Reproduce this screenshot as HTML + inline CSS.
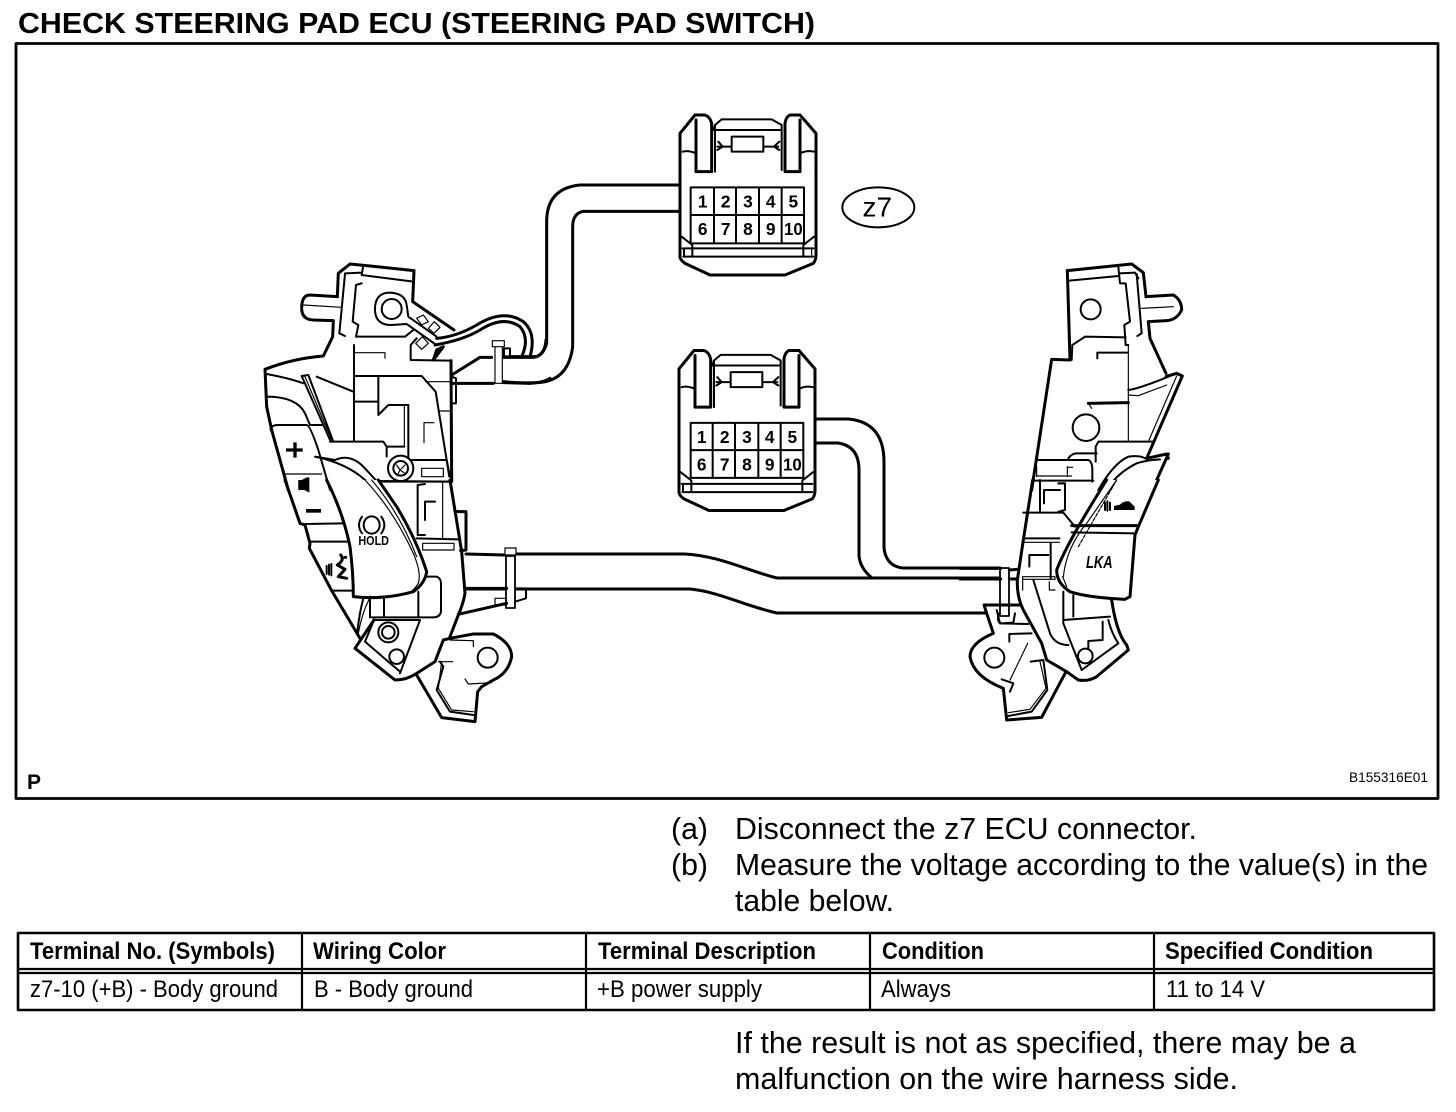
<!DOCTYPE html>
<html><head><meta charset="utf-8"><style>
html,body{margin:0;padding:0;background:#fff}
svg{display:block}
text{font-family:"Liberation Sans",Arial,sans-serif;fill:#000}
.b{font-weight:bold}
path,rect,circle,ellipse,line{fill:none;stroke:#000;stroke-linejoin:round;stroke-linecap:round}
.t{stroke-width:9}.m{stroke-width:6}.f{stroke-width:3.500}
.w{fill:#fff}
.k{fill:#000;stroke:none}
.d{font-weight:bold;font-size:52px;text-anchor:middle}
</style></head><body>
<svg width="1456" height="1112" viewBox="0 0 1456 1112" xmlns="http://www.w3.org/2000/svg">
<rect width="1456" height="1112" style="fill:#fff;stroke:none"/>
<text class="b" x="18" y="33" font-size="29" textLength="797" lengthAdjust="spacingAndGlyphs">CHECK STEERING PAD ECU (STEERING PAD SWITCH)</text>
<rect x="16" y="43.500" width="1422" height="755" style="stroke-width:2.800"/>
<text class="b" x="27" y="789" font-size="21">P</text>
<text x="1349" y="782" font-size="13.500" textLength="79" lengthAdjust="spacingAndGlyphs">B155316E01</text>

<!-- harness (real coordinates) -->
<g style="stroke-width:3">
<path d="M466,554 L505,555 M515,554 L685,554 C720,556 745,570 777,578 L1000,578"/>
<path d="M466,589 L505,589 M515,589 L690,589 C720,592 745,606 777,613 L985,613"/>
<path d="M859,530 L859,556 Q860,568 872,578"/>
<path d="M884,530 L884,548 Q886,566 903,568 L1000,568"/>
<path d="M816,419 L848,419 Q884,422 884,462 L884,530"/>
<path d="M816,443 L838,443 Q859,446 859,470 L859,530"/>
</g>
<rect class="w" x="506" y="556" width="9" height="52" style="stroke-width:1.800"/>
<rect class="w" x="505" y="548" width="11" height="7" style="stroke-width:1.200"/>
<rect class="w" x="1000" y="568" width="9" height="48" style="stroke-width:1.800"/>

<!-- upper wires -->
<g transform="translate(500,170) scale(.33333)">
<path class="t" d="M540,45 L240,45 Q140,55 140,155 L140,520 Q130,558 100,562 L10,562"/>
<path class="t" d="M540,124 L250,124 Q218,130 218,170 L218,530 Q205,635 110,638 Q50,640 10,635"/>
</g>

<!-- left top -->
<g transform="translate(250,250) scale(.33333)">
<path class="t" d="M262,140 L180,135 Q155,135 155,175 Q155,208 190,210 L250,212 L248,260 L220,318 Q130,325 45,358 L50,470 L65,540 L115,720"/>
<path class="t" d="M262,140 L265,70 L300,42 L342,46 L492,62 L488,155 L612,240"/>
<path class="f" d="M160,165 L275,172"/>
<path class="m" d="M285,72 L268,250 L285,258 M285,70 L335,68 M340,46 L335,75 L490,95"/>
<path class="m" d="M335,100 L318,105 L308,215 L325,225 L318,260 L465,260 L490,240"/>
<path class="m" d="M312,285 L312,575"/>
<circle class="m" cx="425" cy="177" r="30"/>
<path class="m" d="M425,225 Q375,225 375,178 Q375,128 420,128 Q465,130 470,165 L475,200 L560,260"/>
<path class="m" d="M425,225 L470,222 L555,282"/>
<path class="f" d="M500,205 L520,195 L535,215 L515,225 Z M535,235 L553,215 L570,232 L552,250 Z M497,280 L517,260 L535,280 L515,298 Z"/>
<path class="t" d="M560,265 Q620,260 680,225 Q760,175 820,215 Q860,250 840,320"/>
<path class="t" d="M555,285 Q640,270 690,240 Q760,195 810,230 Q840,265 815,320"/>
<path class="m" d="M500,265 L482,285 L482,330 L600,332"/>
<path class="t" d="M550,330 L580,290 L560,300 Z"/>
<path class="t" d="M603,332 L605,695"/>
<path class="t" d="M605,375 L690,322 L725,322 M780,320 L860,320 Q885,310 888,270"/>
<path class="t" d="M610,400 L730,400 M760,398 L840,400 Q880,398 900,385"/>
<path class="m" d="M605,380 L618,385 L618,460 L605,460"/>
<rect class="w f" x="735" y="288" width="22" height="112"/>
<rect class="w f" x="727" y="272" width="36" height="18"/>
<rect class="m" x="762" y="295" width="18" height="24"/>
<path class="m" d="M312,378 L515,378 L557,425 L598,680"/>
<path class="m" d="M312,455 L385,455 M385,378 L385,495 L415,465 L475,465 M475,465 L475,630"/>
<path class="f" d="M463,465 L463,590 M315,308 L405,308 L405,325 M565,483 L600,483 M527,395 L605,395 M522,518 L552,518 M522,518 L522,578"/>
<path class="m" d="M155,378 L175,375 L250,575 M155,378 L240,570"/>
<path class="f" d="M165,380 L245,570"/>
<path class="m" d="M200,380 L310,425 M240,575 L400,575 L410,590 L463,590 M410,590 L410,620 M475,630 L590,630 L600,680 M390,695 L600,695"/>
<circle class="w m" cx="452" cy="655" r="38"/><circle class="m" cx="452" cy="655" r="22"/>
<path class="f" d="M440,645 L450,660 L465,645 M445,670 L450,660 L462,668"/>
<rect class="f" x="515" y="655" width="65" height="25"/>
<path class="m" d="M50,440 Q140,440 165,490 L180,525 M50,372 Q120,385 160,400 M185,525 L215,525"/>
<path class="m" d="M62,540 Q62,525 85,525 L170,525 Q180,525 205,600 L240,720"/>
<path class="f" d="M105,672 L215,672"/>
<path class="m" d="M195,620 L255,630 Q300,610 340,650 L405,720 M195,620 Q290,640 345,690 L380,720"/>
<path class="k" d="M130,577 h10 v18 h18 v10 h-18 v18 h-10 v-18 h-22 v-10 h22 z"/>
<path class="k" d="M145,695 h10 l15,-10 h6 v35 h-31 z"/>
</g>

<!-- left bottom -->
<g transform="translate(250,480) scale(.33333)">
<path class="t" d="M105,0 L150,130 L165,135 L180,190 L178,205 L245,332 L330,475"/>
<path class="m" d="M165,132 L280,130 M180,185 L295,185 M245,332 L310,332"/>
<path class="w t" d="M230,0 Q280,100 300,200 Q310,280 310,350 Q400,360 490,335 Q525,310 530,275 Q500,180 440,80 L385,0"/>
<path class="f" d="M345,0 Q430,90 490,220 Q515,280 505,310 Q490,335 470,342"/>
<path class="f" d="M365,0 Q450,100 500,230"/>
<path class="m" d="M530,290 L560,290 Q573,295 573,310 L573,395 Q570,412 550,412 L365,412 M360,350 L360,412 M402,352 L402,412 M505,335 L505,412"/>
<path class="t" d="M600,0 L635,215 L645,340 Q640,370 625,405 L600,470"/>
<path class="t" d="M615,95 L648,95 L648,210 L632,212"/>
<path class="m" d="M525,12 L503,15 L503,165 L525,165 M500,175 L625,178 M388,3 L600,5"/>
<path class="f" d="M578,5 L578,175"/>
<path class="m" d="M555,65 L525,65 L525,120"/>
<rect class="f" x="518" y="190" width="94" height="20"/>
<path class="t" d="M372,420 L315,505 L435,600 Q470,600 500,580 L555,545 L580,480 L600,475 L670,462 L730,462 Q785,490 785,530 Q775,580 730,600 L695,620 L683,635 L675,725 L575,713 L500,585"/>
<path class="m" d="M372,420 L510,420 L450,580 M372,420 L345,485 L450,575"/>
<path class="f" d="M360,352 Q335,400 325,460"/>
<path class="m" d="M340,355 Q328,400 322,455"/>
<circle class="m" cx="440" cy="530" r="22"/>
<circle class="w m" cx="415" cy="457" r="30"/><circle class="m" cx="415" cy="457" r="19"/>
<circle class="m" cx="713" cy="533" r="30"/>
<path class="f" d="M600,480 L670,482 L670,500 M565,545 L608,545 M575,545 L565,625 L605,690 L670,695 M645,597 L655,612 L725,608"/>
<path class="m" d="M570,545 L580,560 L560,630 L600,695 L670,705"/>
<path class="m" d="M800,325 L828,325 L828,355 L795,365"/>
<rect class="f" x="735" y="355" width="33" height="20"/>
<path class="t" d="M625,403 L770,370"/>
<path class="t" d="M648,325 L770,325"/>
<!-- HOLD icon -->
<ellipse class="m" cx="365" cy="135" rx="24" ry="26"/>
<path class="m" d="M336,110 Q318,135 336,160 M394,110 Q412,135 394,160"/>
<text class="b" x="325" y="195" font-size="40" textLength="92" lengthAdjust="spacingAndGlyphs">HOLD</text>
<path class="k" d="M168,87 h45 v11 h-45 z"/>
<path class="m" d="M230,258 v24 M237,254 v30 M244,252 v34"/>
<path class="t" d="M272,225 Q285,240 262,255 L285,268 L265,290 L290,295 M285,232 h2"/>
<path class="k" d="M145,0 h10 l15,-8 h8 v46 l-23,-12 h-10 z"/>
</g>

<!-- right top -->
<g transform="translate(960,250) scale(.33333)">
<path class="t" d="M558,140 L640,135 Q665,150 665,180 Q650,210 620,212 L565,215 L570,265 L618,370"/>
<path class="t" d="M322,62 L515,42 L550,68 L558,140"/>
<path class="t" d="M618,380 L650,370 L667,378 L560,625"/>
<path class="t" d="M322,62 L330,330 L275,328 L215,720"/>
<path class="f" d="M543,175 L640,170"/>
<path class="m" d="M328,92 L475,78 M475,50 L480,100 L497,100 L510,215 L493,225 L497,285 L505,285"/>
<path class="m" d="M530,72 L545,250 L532,258 M478,70 L525,68 L535,85"/>
<path class="f" d="M505,285 L505,575"/>
<circle class="m" cx="392" cy="178" r="30"/>
<path class="m" d="M335,330 L337,285 L375,260 L497,262 M412,325 L412,308 L502,308"/>
<path class="t" d="M385,460 L505,458"/>
<path class="f" d="M385,460 L395,475 M505,435 L535,437 L620,405 M650,378 L565,575"/>
<circle class="m" cx="378" cy="533" r="40"/>
<path class="m" d="M505,420 Q540,415 625,380 M415,575 L580,575 M415,575 L407,590 L407,635"/>
<path class="m" d="M325,625 Q335,610 350,610 L410,610 M235,630 L385,630 Q397,635 397,660 L397,695 M220,692 L400,692"/>
<path class="f" d="M230,650 L230,680 M232,678 L335,678 M322,650 L322,680 M322,652 L338,652"/>
<path class="t" d="M625,612 L590,690 L575,720 M560,625 L620,612 L625,625"/>
<path class="m" d="M415,720 Q460,640 505,620 Q540,615 555,625 M440,720 Q470,670 530,640 Q560,630 600,628"/>
<path class="m" d="M240,695 L240,720 M295,700 L315,700 L315,720"/>
</g>

<!-- right bottom -->
<g transform="translate(960,480) scale(.33333)">
<path class="t" d="M218,0 L190,180 L172,300 Q170,350 190,390 L245,490 L260,540 L320,575 L355,600 Q385,605 410,590 L505,510 L500,495 Q470,460 455,360"/>
<path class="m" d="M240,0 L240,95 M295,10 L315,10 L315,90 L295,95 M190,98 L310,98 L345,140 M252,70 L252,30 L300,30"/>
<path class="m" d="M190,175 L298,175"/>
<path class="f" d="M190,187 L298,187"/>
<path class="m" d="M272,190 L272,295 M208,260 L208,225 L265,225"/>
<rect class="f" x="188" y="290" width="97" height="8"/>
<path class="f" d="M188,298 L188,330 M268,305 L268,330 L285,330"/>
<path class="m" d="M220,300 L270,460 Q285,495 325,495"/>
<path class="w t" d="M595,0 L535,140 L525,165 L510,350 L495,358 Q380,352 330,335 Q290,310 290,270 Q320,190 440,0"/>
<path class="t" d="M335,137 L535,137"/>
<path class="m" d="M335,157 L525,160"/>
<path class="f" d="M310,290 Q320,200 380,130 L470,0"/>
<path class="f" d="M355,200 L470,0" stroke-dasharray="10 5"/>
<path class="f" d="M320,320 L308,290"/>
<path class="m" d="M310,335 L310,430 M340,345 L340,410 M310,420 L450,410 M310,430 L365,570"/>
<circle class="m" cx="376" cy="528" r="22"/>
<path class="m" d="M365,570 L475,490 M445,420 Q455,460 475,490 M428,425 L428,480 L385,483 L385,505"/>
<path class="t" d="M180,375 L72,375 L80,400 L100,460 Q30,490 30,530 Q40,590 130,625 L140,720 L245,712 L318,575"/>
<path class="m" d="M110,390 L120,430 L205,432 M148,462 L215,460 M148,462 L148,485"/>
<circle class="m" cx="103" cy="533" r="30"/>
<path class="f" d="M203,490 L150,600"/>
<path class="m" d="M125,598 L160,610 L150,635 M212,545 L250,540 L262,630 L215,695 L145,708"/>
<path class="f" d="M240,545 L258,625 L210,688 L145,698"/>
<path class="t" d="M0,265 L122,265 M148,270 L172,268 M148,297 L172,297 M0,297 L122,297"/>
<path class="m" d="M115,400 Q110,430 125,430 L160,428 L165,400"/>
<text class="b" x="378" y="264" font-size="54" font-style="italic" textLength="80" lengthAdjust="spacingAndGlyphs">LKA</text>
<path class="k" d="M462,78 L480,74 Q490,62 508,64 L524,80 L524,90 L462,90 Z"/>
<path class="m" d="M435,68 v22 M442,64 v28 M450,68 v22"/>
</g>

<!-- upper connector -->
<g transform="translate(660,100) scale(.33333)">
<path class="t" d="M60,215 L60,100 L105,45 L135,45 Q150,50 155,70 L155,215 L108,215 L108,60"/>
<path class="t" d="M60,470 Q60,480 75,490 L150,525 L375,525 L460,490 Q468,480 468,465 L468,100 L420,45 L390,45 Q378,50 375,70 L375,215 L420,215 L420,60"/>
<path class="t" d="M60,215 L60,470"/>
<path class="m" d="M160,90 L165,75 L185,58 L335,58 L365,75 L365,210 M165,75 L165,215 M165,90 L360,90"/>
<path class="m" d="M68,155 Q85,150 108,160 M420,160 Q440,150 462,155"/>
<rect class="m" x="215" y="110" width="95" height="45"/>
<path class="m" d="M172,140 L215,140 M310,140 L355,140 M175,125 L188,140 L172,150 M358,125 L342,140 L358,150"/>
<rect class="m" x="92" y="262" width="340" height="168"/>
<path class="m" d="M92,345 H432 M162,262 V430 M228,262 V430 M297,262 V430 M365,262 V430"/>
<path class="m" d="M68,445 L460,445 M70,470 L460,470 M65,410 L97,435 L97,468 M462,410 L430,435 L430,468 M72,445 L72,465"/>
<path class="f" d="M455,445 L455,465"/>
<text class="d" x="128" y="323">1</text><text class="d" x="197" y="323">2</text><text class="d" x="264" y="323">3</text><text class="d" x="332" y="323">4</text><text class="d" x="400" y="323">5</text>
<text class="d" x="128" y="405">6</text><text class="d" x="197" y="405">7</text><text class="d" x="264" y="405">8</text><text class="d" x="332" y="405">9</text><text class="d" x="400" y="405" textLength="56" lengthAdjust="spacingAndGlyphs">10</text>
<ellipse class="m" cx="655" cy="322" rx="108" ry="60"/>
<text x="652" y="350" font-size="84" text-anchor="middle">z7</text>
</g>

<!-- lower connector -->
<g transform="translate(659,335.500) scale(.33333)">
<path class="t" d="M60,215 L60,100 L105,45 L135,45 Q150,50 155,70 L155,215 L108,215 L108,60"/>
<path class="t" d="M60,470 Q60,480 75,490 L150,525 L375,525 L460,490 Q468,480 468,465 L468,100 L420,45 L390,45 Q378,50 375,70 L375,215 L420,215 L420,60"/>
<path class="t" d="M60,215 L60,470"/>
<path class="m" d="M160,90 L165,75 L185,58 L335,58 L365,75 L365,210 M165,75 L165,215 M165,90 L360,90"/>
<path class="m" d="M68,155 Q85,150 108,160 M420,160 Q440,150 462,155"/>
<rect class="m" x="215" y="110" width="95" height="45"/>
<path class="m" d="M172,140 L215,140 M310,140 L355,140 M175,125 L188,140 L172,150 M358,125 L342,140 L358,150"/>
<rect class="m" x="95" y="262" width="338" height="165"/>
<path class="m" d="M95,344 H433 M161,262 V427 M228,262 V427 M298,262 V427 M365,262 V427"/>
<path class="m" d="M68,445 L460,445 M70,470 L460,470 M65,410 L97,435 L97,468 M462,410 L430,435 L430,468 M72,445 L72,465"/>
<text class="d" x="128" y="323">1</text><text class="d" x="197" y="323">2</text><text class="d" x="264" y="323">3</text><text class="d" x="332" y="323">4</text><text class="d" x="400" y="323">5</text>
<text class="d" x="128" y="405">6</text><text class="d" x="197" y="405">7</text><text class="d" x="264" y="405">8</text><text class="d" x="332" y="405">9</text><text class="d" x="400" y="405" textLength="56" lengthAdjust="spacingAndGlyphs">10</text>
</g>

<!-- body text -->
<g>
<text x="671" y="839" font-size="31" textLength="37" lengthAdjust="spacingAndGlyphs">(a)</text>
<text x="735" y="839" font-size="31" textLength="462" lengthAdjust="spacingAndGlyphs">Disconnect the z7 ECU connector.</text>
<text x="671" y="875" font-size="31" textLength="37" lengthAdjust="spacingAndGlyphs">(b)</text>
<text x="735" y="875" font-size="31" textLength="693" lengthAdjust="spacingAndGlyphs">Measure the voltage according to the value(s) in the</text>
<text x="735" y="911" font-size="31" textLength="159" lengthAdjust="spacingAndGlyphs">table below.</text>
<text x="735" y="1053" font-size="31" textLength="621" lengthAdjust="spacingAndGlyphs">If the result is not as specified, there may be a</text>
<text x="735" y="1089" font-size="31" textLength="503" lengthAdjust="spacingAndGlyphs">malfunction on the wire harness side.</text>
</g>

<!-- table -->
<g>
<rect x="18" y="933" width="1416" height="77" style="stroke-width:2.600"/>
<path d="M18,969 H1434 M18,973 H1434 M302,933 V1010 M586,933 V1010 M870,933 V1010 M1154,933 V1010" style="stroke-width:2.200"/>
</g>
<g>
<text class="b" x="30" y="959" font-size="24" textLength="245" lengthAdjust="spacingAndGlyphs">Terminal No. (Symbols)</text>
<text class="b" x="313" y="959" font-size="24" textLength="133" lengthAdjust="spacingAndGlyphs">Wiring Color</text>
<text class="b" x="598" y="959" font-size="24" textLength="218" lengthAdjust="spacingAndGlyphs">Terminal Description</text>
<text class="b" x="882" y="959" font-size="24" textLength="102" lengthAdjust="spacingAndGlyphs">Condition</text>
<text class="b" x="1165" y="959" font-size="24" textLength="208" lengthAdjust="spacingAndGlyphs">Specified Condition</text>
<text x="30" y="997" font-size="24" textLength="248" lengthAdjust="spacingAndGlyphs">z7-10 (+B) - Body ground</text>
<text x="314" y="997" font-size="24" textLength="159" lengthAdjust="spacingAndGlyphs">B - Body ground</text>
<text x="597" y="997" font-size="24" textLength="165" lengthAdjust="spacingAndGlyphs">+B power supply</text>
<text x="881" y="997" font-size="24" textLength="70" lengthAdjust="spacingAndGlyphs">Always</text>
<text x="1166" y="997" font-size="24" textLength="99" lengthAdjust="spacingAndGlyphs">11 to 14 V</text>
</g>
</svg>
</body></html>
